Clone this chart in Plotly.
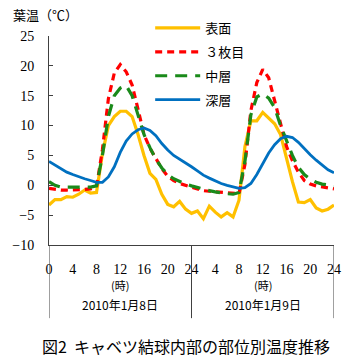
import plotly.graph_objects as go

hours = list(range(0, 49))

surface = [-3.3, -2.4, -2.4, -1.9, -2.0, -1.5, -0.8, -1.3, -1.2, 5.3, 10.0, 11.5, 12.4, 12.4, 11.5, 8.5,
           5.0, 2.0, 1.0, -1.5, -3.2, -3.6, -2.7, -4.0, -4.7, -4.3, -5.6, -3.5, -4.5, -5.3, -4.6, -5.3,
           -2.5, 6.5, 10.8, 10.8, 12.2, 11.3, 10.3, 8.5, 4.5, 0.6, -2.8, -2.9, -2.4, -3.8, -4.3, -4.0, -3.3]
leaf3 = [-0.5, -0.7, -0.8, -0.8, -0.8, -0.8, -0.7, -0.6, -0.3, 6.0, 14.5, 18.8, 20.2, 19.0, 16.8, 12.7,
         8.5, 6.2, 4.5, 2.8, 1.5, 0.8, 0.3, 0.0, -0.3, -0.6, -0.9, -1.0, -1.1, -1.2, -1.3, -1.4,
         -1.4, 3.5, 12.5, 17.2, 19.4, 18.0, 14.3, 10.2, 6.5, 4.1, 2.2, 0.8, 0.2, -0.1, -0.3, -0.5, -0.6]
middle = [0.6, 0.0, -0.3, -0.3, -0.3, -0.3, -0.3, -0.3, -0.1, 5.0, 11.5, 15.0, 16.3, 16.7, 15.0, 11.8,
          8.5, 6.3, 4.4, 2.9, 1.8, 1.1, 0.6, 0.2, -0.1, -0.4, -0.7, -0.9, -1.1, -1.3, -1.4, -1.5,
          -1.2, 4.0, 11.8, 14.8, 15.3, 14.6, 13.0, 10.0, 7.5, 5.0, 3.0, 1.8, 1.0, 0.5, 0.2, 0.0, -0.1]
deep = [4.0, 3.4, 2.8, 2.2, 1.8, 1.4, 1.1, 0.8, 0.5, 0.5, 1.4, 3.1, 5.5, 7.4, 8.6, 9.3,
        9.6, 9.2, 8.3, 7.0, 5.9, 5.0, 4.4, 3.7, 3.1, 2.4, 1.7, 1.2, 0.7, 0.3, 0.0, -0.3,
        -0.5, -0.4, 0.3, 1.8, 3.6, 5.4, 6.8, 7.8, 8.2, 8.0, 7.2, 6.1, 5.1, 4.2, 3.4, 2.6, 2.1]

series_names = ["表面", "３枚目", "中層", "深層"]
tick_vals = list(range(0, 49, 4))
tick_text = ["0", "4", "8", "12", "16", "20", "24", "4", "8", "12", "16", "20", "24"]
y_ticks = [-10, -5, 0, 5, 10, 15, 20, 25]
day_labels = ["2010年1月8日", "2010年1月9日"]
day_centers = [12, 36]
day_bounds = [0, 24, 48]

jp = "Noto Sans CJK JP"
serif = "Liberation Serif"

fig = go.Figure()
styles = [
    dict(color="#FFC000", width=3.2, dash="solid"),
    dict(color="#FF0000", width=3.2, dash="7px,5px"),
    dict(color="#1A8A1A", width=3.2, dash="12px,8px"),
    dict(color="#0070C0", width=2.8, dash="solid"),
]
for name, vals, st in zip(series_names, [surface, leaf3, middle, deep], styles):
    fig.add_trace(go.Scatter(x=hours, y=vals, mode="lines", name=name, line=st,
                             legendgroup=name))

fig.update_layout(
    width=362, height=361,
    margin=dict(l=49, r=28, t=36, b=116),
    paper_bgcolor="white", plot_bgcolor="white",
    showlegend=True,
    legend=dict(x=0.355, y=1.11, xanchor="left", yanchor="top",
                font=dict(family=jp, size=13, color="#000"),
                bgcolor="rgba(0,0,0,0)", itemwidth=45, tracegroupgap=4),
    xaxis=dict(range=[0, 48], tickvals=tick_vals, ticktext=tick_text, showgrid=False,
               zeroline=False, showline=True, linecolor="#404040", linewidth=1,
               ticks="", tickfont=dict(family=serif, size=14, color="#000"),
               ticklabelstandoff=11),
    yaxis=dict(range=[-10, 25], tickvals=y_ticks, showgrid=False, zeroline=False,
               showline=True, linecolor="#404040", linewidth=1, ticks="inside",
               ticklen=4, tickcolor="#404040",
               tickfont=dict(family=serif, size=14, color="#000"), ticklabelstandoff=11),
)

for b in day_bounds:
    fig.add_shape(type="line", xref="x", yref="paper", x0=b, x1=b, y0=0, y1=-0.35,
                  line=dict(color="#404040", width=1))

for c, lab in zip(day_centers, day_labels):
    fig.add_annotation(x=c, y=-0.19, xref="x", yref="paper", text="(時)", showarrow=False,
                       font=dict(family=jp, size=11, color="#000"), yanchor="middle")
    fig.add_annotation(x=c, y=-0.287, xref="x", yref="paper", text=lab, showarrow=False,
                       font=dict(family=jp, size=12, color="#000"), yanchor="middle")

fig.add_annotation(x=-0.135, y=1.105, xref="paper", yref="paper", text="葉温（℃）",
                   showarrow=False, xanchor="left", yanchor="middle",
                   font=dict(family=jp, size=13, color="#000"))
fig.add_annotation(x=0.48, y=-0.483, xref="paper", yref="paper",
                   text="図2  キャベツ結球内部の部位別温度推移", showarrow=False,
                   xanchor="center", yanchor="middle",
                   font=dict(family=jp, size=16, color="#000"))

fig.write_html("out.html", post_script="document.body.style.margin='0';",
               config={"displayModeBar": False})
